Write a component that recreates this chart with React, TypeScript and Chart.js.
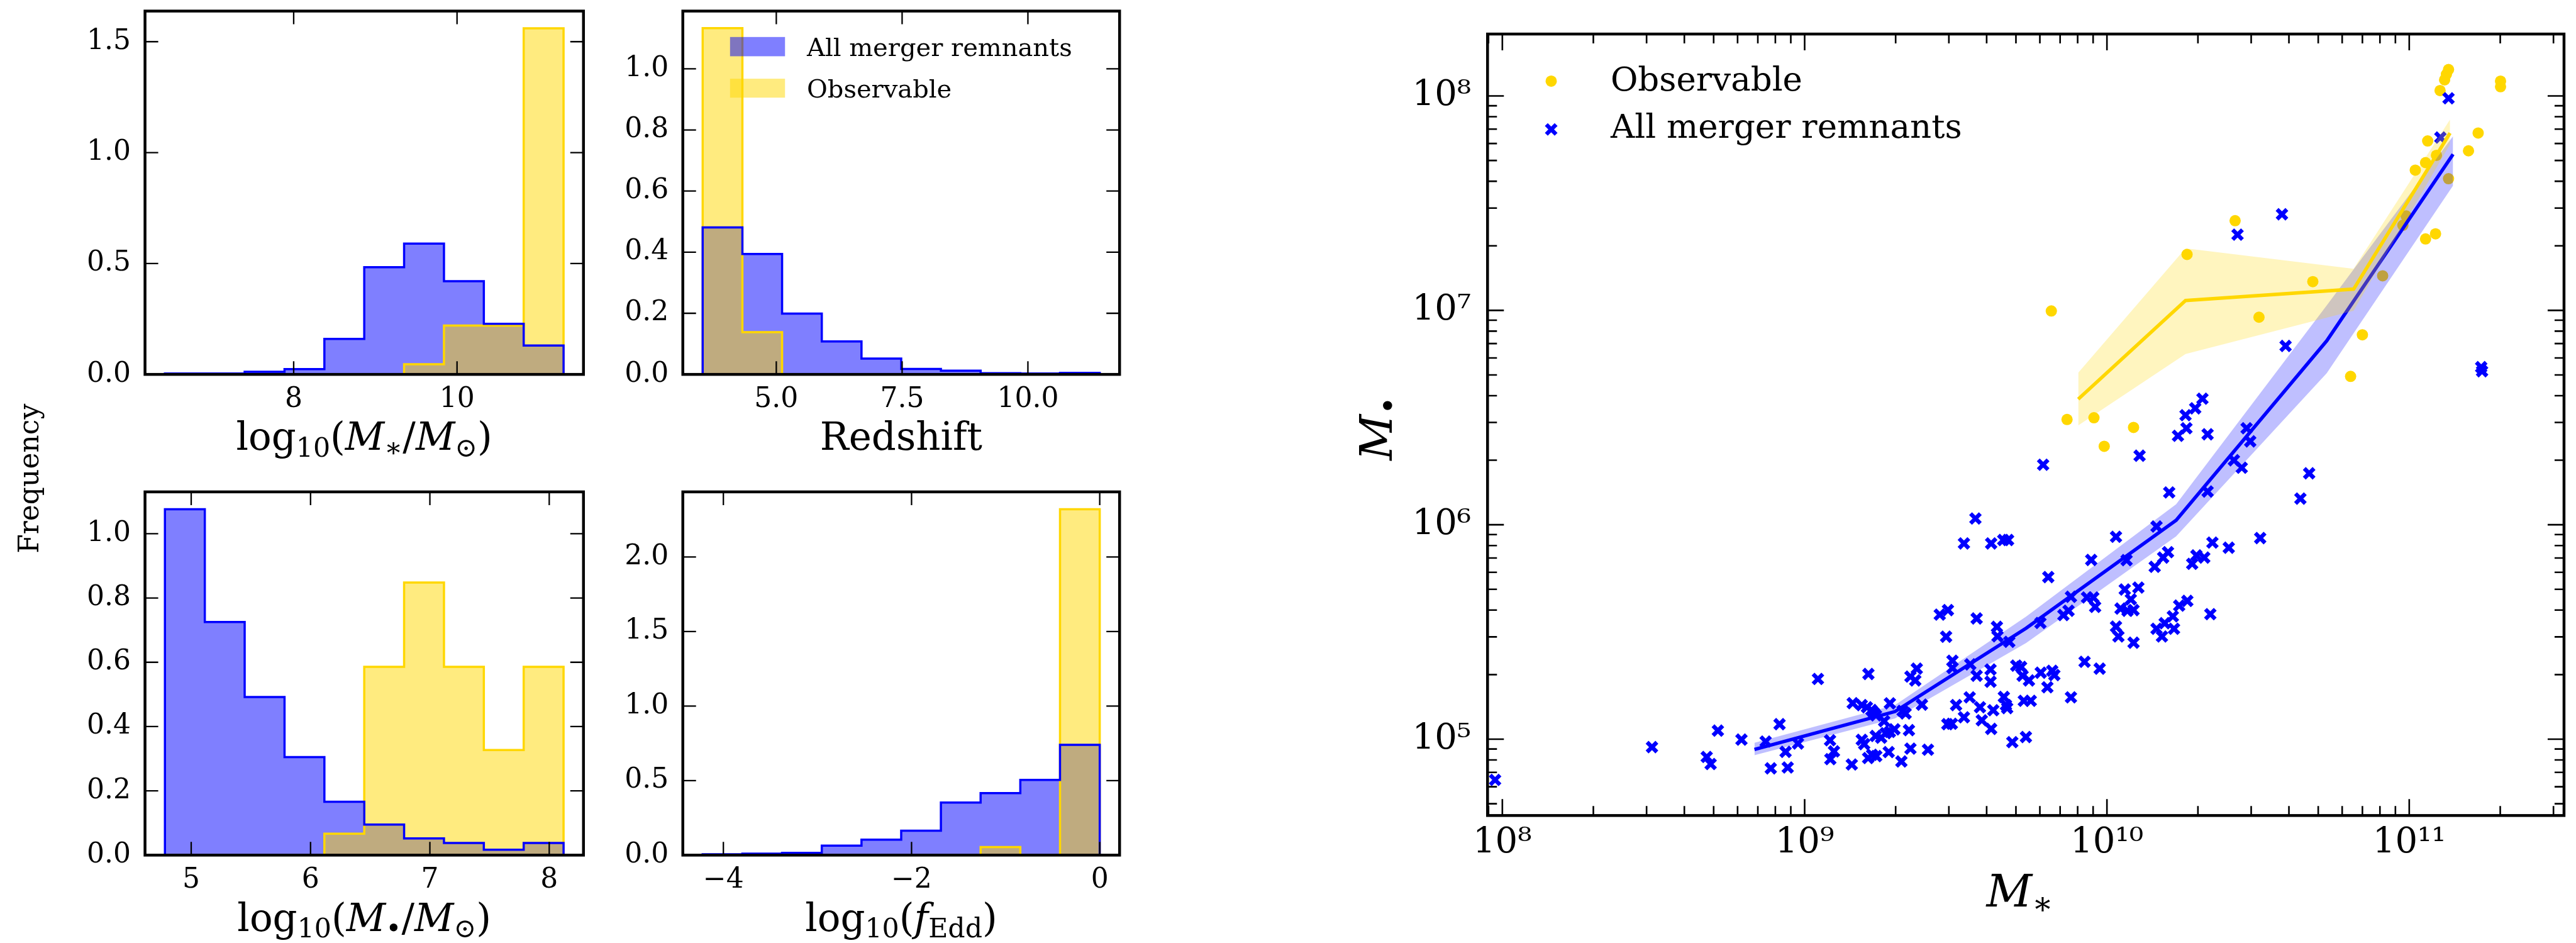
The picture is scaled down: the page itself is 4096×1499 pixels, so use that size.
import React, { useEffect, useRef } from "react";
import { Chart, registerables } from "chart.js";

Chart.register(...registerables);

// ================= DATA: histogram panels =================
// log10(M*/Msun)
const mstarEdges = [6.424, 6.912, 7.4, 7.888, 8.376, 8.864, 9.352, 9.84, 10.328, 10.816, 11.304];
const mstarAll = [0.004, 0.004, 0.012, 0.024, 0.16, 0.483, 0.59, 0.42, 0.228, 0.13];
const mstarObs = [null, null, 0, 0, 0, 0, 0.046, 0.22, 0.22, 1.56];
const mstarXRange = [6.18, 11.548];
const mstarYRange = [0, 1.638];
const mstarXTicks = [8, 10];
const mstarXLabels = ["8", "10"];
const mstarYTicks = [0, 0.5, 1.0, 1.5];
const mstarYLabels = ["0.0", "0.5", "1.0", "1.5"];

// Redshift
const zEdges = [3.537, 4.326, 5.115, 5.904, 6.693, 7.482, 8.271, 9.06, 9.849, 10.638, 11.427];
const zAll = [0.481, 0.394, 0.199, 0.108, 0.052, 0.018, 0.012, 0.004, 0.003, 0.005];
const zObs = [1.133, 0.138, 0, 0, 0, 0, 0, null, null, null];
const zXRange = [3.1425, 11.8215];
const zYRange = [0, 1.189];
const zXTicks = [5, 7.5, 10];
const zXLabels = ["5.0", "7.5", "10.0"];
const zYTicks = [0, 0.2, 0.4, 0.6, 0.8, 1.0];
const zYLabels = ["0.0", "0.2", "0.4", "0.6", "0.8", "1.0"];

// log10(M_BH/Msun)
const mbhEdges = [4.78, 5.114, 5.448, 5.782, 6.116, 6.45, 6.784, 7.118, 7.452, 7.786, 8.12];
const mbhAll = [1.076, 0.725, 0.492, 0.305, 0.166, 0.095, 0.052, 0.038, 0.017, 0.038];
const mbhObs = [0, 0, 0, 0, 0.0665, 0.586, 0.848, 0.586, 0.327, 0.586];
const mbhXRange = [4.613, 8.287];
const mbhYRange = [0, 1.13];
const mbhXTicks = [5, 6, 7, 8];
const mbhXLabels = ["5", "6", "7", "8"];
const mbhYTicks = [0, 0.2, 0.4, 0.6, 0.8, 1.0];
const mbhYLabels = ["0.0", "0.2", "0.4", "0.6", "0.8", "1.0"];

// log10(f_Edd)
const feddEdges = [-4.22, -3.798, -3.376, -2.954, -2.532, -2.11, -1.688, -1.266, -0.844, -0.422, 0];
const feddAll = [0.006, 0.01, 0.015, 0.064, 0.104, 0.164, 0.353, 0.416, 0.505, 0.74];
const feddObs = [null, null, 0, 0, 0, 0, 0, 0.054, 0, 2.32];
const feddXRange = [-4.431, 0.211];
const feddYRange = [0, 2.437];
const feddXTicks = [-4, -2, 0];
const feddXLabels = ["\u22124", "\u22122", "0"];
const feddYTicks = [0, 0.5, 1.0, 1.5, 2.0];
const feddYLabels = ["0.0", "0.5", "1.0", "1.5", "2.0"];

// ================= DATA: scatter panel (log10 values) =================
const scatterLogXRange = [7.951, 11.512];
const scatterLogYRange = [4.644, 8.2887];

const obsLogMstar = [11.13, 11.123, 11.117, 11.102, 11.302, 11.302, 11.228, 11.061, 11.196, 11.09, 11.054, 11.02, 11.13, 10.99, 10.979, 11.087, 11.054, 10.424, 10.265, 10.681, 10.912, 9.816, 10.503, 10.845, 10.806, 9.868, 9.957, 10.088, 9.991];
const obsLogMbh = [8.123, 8.101, 8.075, 8.025, 8.069, 8.043, 7.827, 7.79, 7.744, 7.723, 7.689, 7.654, 7.614, 7.44, 7.397, 7.357, 7.333, 7.418, 7.261, 7.134, 7.161, 6.997, 6.968, 6.886, 6.692, 6.491, 6.499, 6.454, 6.366];

const allLogMstar = [
  7.976, 8.495, 8.676, 8.689, 8.713, 8.791, 8.871, 8.888, 8.917, 8.937,
  8.944, 8.978, 9.044, 9.084, 9.097, 9.085, 9.156, 9.159, 9.189, 9.206,
  9.221, 9.211, 9.189, 9.197, 9.21, 9.237, 9.223, 9.235, 9.253, 9.268,
  9.229, 9.236, 9.263, 9.282, 9.282, 9.297, 9.278, 9.32, 9.324, 9.334,
  9.345, 9.35, 9.408, 9.35, 9.366, 9.371, 9.388, 9.447, 9.474, 9.468,
  9.472, 9.487, 9.489, 9.489, 9.501, 9.527, 9.527, 9.565, 9.617, 9.657,
  9.673, 9.548, 9.546, 9.569, 9.569, 9.58, 9.586, 9.617, 9.615, 9.615,
  9.624, 9.636, 9.638, 9.659, 9.666, 9.67, 9.677, 9.687, 9.7, 9.716,
  9.721, 9.725, 9.732, 9.742, 9.748, 9.78, 9.781, 9.789, 9.803, 9.806,
  9.819, 9.826, 9.856, 9.873, 9.881, 9.881, 9.926, 9.934, 9.948, 9.955,
  9.961, 9.976, 10.03, 10.03, 10.038, 10.045, 10.059, 10.065, 10.068, 10.079,
  10.088, 10.088, 10.104, 10.108, 10.158, 10.164, 10.164, 10.182, 10.186, 10.191,
  10.202, 10.206, 10.218, 10.222, 10.235, 10.239, 10.26, 10.263, 10.266, 10.282,
  10.292, 10.296, 10.316, 10.322, 10.333, 10.333, 10.342, 10.349, 10.403, 10.42,
  10.432, 10.446, 10.462, 10.474, 10.507, 10.579, 10.591, 10.64, 10.669, 11.103,
  11.13, 11.238, 11.241,
];
const allLogMbh = [
  4.81, 4.963, 4.917, 4.884, 5.04, 4.998, 4.989, 4.864, 5.07, 4.941,
  4.868, 4.98, 5.281, 4.995, 4.943, 4.907, 4.882, 5.168, 5.159, 5.149,
  5.136, 5.304, 4.997, 4.977, 4.912, 4.921, 4.927, 5.015, 5.007, 5.028,
  5.123, 5.111, 5.084, 5.167, 5.034, 5.046, 4.94, 4.896, 5.132, 5.12,
  5.042, 4.956, 4.951, 5.292, 5.274, 5.329, 5.161, 5.581, 5.602, 5.478,
  5.07, 5.072, 5.366, 5.332, 5.159, 5.102, 5.913, 6.029, 5.913, 5.929,
  5.929, 5.349, 5.195, 5.563, 5.296, 5.149, 5.088, 5.048, 5.325, 5.268,
  5.135, 5.524, 5.48, 5.197, 5.159, 5.145, 5.454, 4.986, 5.343, 5.337,
  5.296, 5.179, 5.01, 5.274, 5.179, 5.542, 5.31, 6.28, 5.242, 5.756,
  5.319, 5.299, 5.579, 5.599, 5.664, 5.195, 5.361, 5.661, 5.836, 5.661,
  5.617, 5.329, 5.944, 5.525, 5.479, 5.609, 5.698, 5.835, 5.599, 5.652,
  5.602, 5.45, 5.707, 6.322, 5.804, 5.992, 5.515, 5.479, 5.847, 5.541,
  5.872, 6.151, 5.573, 5.515, 6.415, 5.623, 6.511, 6.45, 5.645, 5.818,
  6.543, 5.857, 6.588, 5.847, 6.422, 6.155, 5.583, 5.917, 5.893, 6.301,
  7.353, 6.266, 6.45, 6.389, 5.938, 7.448, 6.834, 6.122, 6.24, 7.806,
  7.989, 6.735, 6.716,
];

// running medians and 1-sigma bands (log10)
const medAllLogMstar = [8.834, 9.299, 9.733, 10.229, 10.727, 11.145];
const medAllLogMbh = [4.952, 5.129, 5.518, 6.021, 6.858, 7.728];
const hiAllLogMbh = [4.983, 5.159, 5.572, 6.096, 7.023, 7.812];
const loAllLogMbh = [4.925, 5.097, 5.449, 5.946, 6.707, 7.582];

const medObsLogMstar = [9.905, 10.26, 10.816, 11.135];
const medObsLogMbh = [6.586, 7.046, 7.099, 7.827];
const hiObsLogMbh = [6.709, 7.289, 7.194, 7.89];
const loObsLogMbh = [6.463, 6.796, 6.998, 7.775];

// ================= LAYOUT / STYLE =================
const W = 4096;
const H = 1499;
const K = W / 4512;
const px = (v: number) => v * K;
const FONT = '"DejaVu Serif", "Liberation Serif", serif';
const BLUE = "#0000ff";
const GOLD = "#ffd700";
const BLUE_HALF = "rgba(0,0,255,0.5)";
const GOLD_HALF = "rgba(255,215,0,0.5)";
const BLUE_BAND = "rgba(0,0,255,0.25)";
const GOLD_BAND = "rgba(255,215,0,0.25)";
const CLEAR = "rgba(0,0,0,0)";

const boxes: any = {
  tl: { L: px(254), T: px(19.4), R: px(1022), B: px(655.6) },
  tr: { L: px(1196), T: px(19.4), R: px(1961), B: px(655.6) },
  bl: { L: px(254), T: px(861.3), R: px(1022), B: px(1497.4) },
  br: { L: px(1196), T: px(861.3), R: px(1961), B: px(1497.4) },
  sc: { L: px(2605.5), T: px(59.6), R: px(4491), B: px(1428) },
};

const AXW = 200; // fixed width reserved for y tick labels
const AXH = 120; // fixed height reserved for x tick labels

const HIST_TICK_FONT = 44;
const HIST_TITLE_FONT = 61;
const SC_TICK_FONT = 56;
const SC_TITLE_FONT = 71;
const X_RADIUS = 11;
const X_WIDTH = 6.5;

type Seg = { t: string; it?: boolean; sub?: boolean };

function drawRich(ctx: any, segs: Seg[], size: number, cx: number, by: number, rot = false) {
  const f = (s: Seg) => `${s.it ? "italic " : ""}${s.sub ? size * 0.7 : size}px ${FONT}`;
  let total = 0;
  const ws = segs.map((s) => {
    ctx.font = f(s);
    const w = ctx.measureText(s.t).width;
    total += w;
    return w;
  });
  ctx.save();
  ctx.translate(cx, by);
  if (rot) ctx.rotate(-Math.PI / 2);
  ctx.fillStyle = "#000";
  ctx.textBaseline = "alphabetic";
  ctx.textAlign = "left";
  let x = -total / 2;
  segs.forEach((s, i) => {
    ctx.font = f(s);
    ctx.fillText(s.t, x, s.sub ? size * 0.17 : 0);
    x += ws[i];
  });
  ctx.restore();
}

function framePlugin(major: number, minor: number, tickW: number, frameW: number) {
  return {
    id: "frame",
    afterDatasetsDraw(chart: any) {
      const { ctx, chartArea: a } = chart;
      const xs = chart.scales.x;
      const ys = chart.scales.y;
      ctx.save();
      ctx.strokeStyle = "#000";
      ctx.lineWidth = tickW;
      ctx.lineCap = "butt";
      ctx.beginPath();
      for (const t of xs.ticks) {
        const p = xs.getPixelForValue(t.value);
        if (p < a.left - 1 || p > a.right + 1) continue;
        const l = t.major ? major : minor;
        ctx.moveTo(p, a.bottom);
        ctx.lineTo(p, a.bottom - l);
        ctx.moveTo(p, a.top);
        ctx.lineTo(p, a.top + l);
      }
      for (const t of ys.ticks) {
        const p = ys.getPixelForValue(t.value);
        if (p < a.top - 1 || p > a.bottom + 1) continue;
        const l = t.major ? major : minor;
        ctx.moveTo(a.left, p);
        ctx.lineTo(a.left + l, p);
        ctx.moveTo(a.right, p);
        ctx.lineTo(a.right - l, p);
      }
      ctx.stroke();
      ctx.lineWidth = frameW;
      ctx.lineJoin = "miter";
      ctx.strokeRect(a.left, a.top, a.right - a.left, a.bottom - a.top);
      ctx.restore();
    },
  };
}

function stepOutline(edges: number[], vals: (number | null)[]) {
  const pts: { x: number; y: number }[] = [];
  let last = -1;
  for (let i = 0; i < vals.length; i++) {
    const v = vals[i];
    if (v === null || v === undefined) continue;
    if (last < 0) pts.push({ x: edges[i], y: 0 });
    pts.push({ x: edges[i], y: v }, { x: edges[i + 1], y: v });
    last = i;
  }
  pts.push({ x: edges[last + 1], y: 0 });
  return pts;
}

function fixedFit(axis: "x" | "y") {
  return (s: any) => {
    if (axis === "x") s.height = AXH;
    else s.width = AXW;
    s.paddingLeft = 0;
    s.paddingRight = 0;
    s.paddingTop = 0;
    s.paddingBottom = 0;
  };
}

function padFor(box: any) {
  return { left: box.L - AXW, top: box.T, right: W - box.R, bottom: H - box.B - AXH };
}

function histConfig(p: any) {
  const allPts = stepOutline(p.edges, p.all);
  const obsPts = stepOutline(p.edges, p.obs);
  const lineBase = { type: "line", pointRadius: 0, stepped: "before", borderJoinStyle: "miter", borderCapStyle: "butt" };
  const box = p.box;
  return {
    type: "scatter",
    data: {
      datasets: [
        { ...lineBase, data: allPts, borderColor: BLUE, borderWidth: 3.5, fill: false, order: 0 },
        { ...lineBase, data: obsPts, borderColor: GOLD, borderWidth: 3.5, fill: false, order: 1 },
        { ...lineBase, data: obsPts, borderColor: CLEAR, borderWidth: 1, fill: "origin", backgroundColor: GOLD_HALF, order: 2 },
        { ...lineBase, data: allPts, borderColor: CLEAR, borderWidth: 1, fill: "origin", backgroundColor: BLUE_HALF, order: 3 },
      ],
    },
    options: {
      responsive: false,
      animation: false,
      devicePixelRatio: 1,
      events: [],
      layout: { padding: padFor(box) },
      plugins: { legend: { display: false }, tooltip: { enabled: false } },
      scales: {
        x: {
          type: "linear",
          min: p.xRange[0],
          max: p.xRange[1],
          grid: { display: false },
          border: { display: false },
          afterFit: fixedFit("x"),
          afterBuildTicks: (s: any) => {
            s.ticks = p.xTicks.map((v: number) => ({ value: v, major: true }));
          },
          ticks: {
            autoSkip: false,
            maxRotation: 0,
            minRotation: 0,
            padding: 6,
            color: "#000",
            font: { family: FONT, size: HIST_TICK_FONT },
            callback: (_v: any, i: number) => p.xLabels[i],
          },
        },
        y: {
          type: "linear",
          min: p.yRange[0],
          max: p.yRange[1],
          grid: { display: false },
          border: { display: false },
          afterFit: fixedFit("y"),
          afterBuildTicks: (s: any) => {
            s.ticks = p.yTicks.map((v: number) => ({ value: v, major: true }));
          },
          ticks: {
            autoSkip: false,
            padding: 14.5,
            color: "#000",
            font: { family: FONT, size: HIST_TICK_FONT },
            callback: (_v: any, i: number) => p.yLabels[i],
          },
        },
      },
    },
    plugins: [
      framePlugin(21, 12, 2.3, 4.5),
      {
        id: "decor",
        afterDraw(chart: any) {
          const ctx = chart.ctx;
          drawRich(ctx, p.title, HIST_TITLE_FONT, (box.L + box.R) / 2, p.titleBase);
          if (p.extra) p.extra(ctx);
        },
      },
    ],
  };
}

const SUP: any = { "0": "\u2070", "1": "\u00b9", "2": "\u00b2", "3": "\u00b3", "4": "\u2074", "5": "\u2075", "6": "\u2076", "7": "\u2077", "8": "\u2078", "9": "\u2079" };
const supNum = (n: number) => String(n).split("").map((c) => SUP[c] || c).join("");

function logTicks(min: number, max: number) {
  const out: { value: number; major: boolean }[] = [];
  for (let e = Math.floor(Math.log10(min)); e <= Math.ceil(Math.log10(max)); e++) {
    for (let m = 1; m <= 9; m++) {
      const v = m * Math.pow(10, e);
      if (v >= min && v <= max) out.push({ value: v, major: m === 1 });
    }
  }
  return out;
}

function logLabel(v: number) {
  const e = Math.log10(v);
  const r = Math.round(e);
  return Math.abs(e - r) < 1e-9 ? "10" + supNum(r) : "";
}

function scatterConfig() {
  const box = boxes.sc;
  const toPts = (xs: number[], ys: number[]) => xs.map((v, i) => ({ x: Math.pow(10, v), y: Math.pow(10, ys[i]) }));
  const lineBase = { type: "line", pointRadius: 0, borderJoinStyle: "miter", tension: 0 };
  const xMin = Math.pow(10, scatterLogXRange[0]);
  const xMax = Math.pow(10, scatterLogXRange[1]);
  const yMin = Math.pow(10, scatterLogYRange[0]);
  const yMax = Math.pow(10, scatterLogYRange[1]);
  return {
    type: "scatter",
    data: {
      datasets: [
        { ...lineBase, data: toPts(medObsLogMstar, hiObsLogMbh), borderColor: CLEAR, borderWidth: 1, fill: "+1", backgroundColor: GOLD_BAND, order: 1 },
        { ...lineBase, data: toPts(medObsLogMstar, loObsLogMbh), borderColor: CLEAR, borderWidth: 1, fill: false, order: 1 },
        { ...lineBase, data: toPts(medObsLogMstar, medObsLogMbh), borderColor: GOLD, borderWidth: 5.5, fill: false, order: 2 },
        { ...lineBase, data: toPts(medAllLogMstar, hiAllLogMbh), borderColor: CLEAR, borderWidth: 1, fill: "+1", backgroundColor: BLUE_BAND, order: 3 },
        { ...lineBase, data: toPts(medAllLogMstar, loAllLogMbh), borderColor: CLEAR, borderWidth: 1, fill: false, order: 3 },
        { ...lineBase, data: toPts(medAllLogMstar, medAllLogMbh), borderColor: BLUE, borderWidth: 5.5, fill: false, order: 4 },
        {
          type: "scatter",
          data: toPts(allLogMstar, allLogMbh),
          pointStyle: "crossRot",
          pointRadius: X_RADIUS,
          radius: X_RADIUS,
          pointBorderWidth: X_WIDTH,
          borderWidth: X_WIDTH,
          borderColor: BLUE,
          backgroundColor: BLUE,
          clip: false,
          order: 5,
        },
        {
          type: "scatter",
          data: toPts(obsLogMstar, obsLogMbh),
          pointStyle: "circle",
          pointRadius: 9,
          radius: 9,
          pointBorderWidth: 0,
          borderWidth: 0,
          backgroundColor: GOLD,
          borderColor: GOLD,
          clip: false,
          order: 6,
        },
      ],
    },
    options: {
      responsive: false,
      animation: false,
      devicePixelRatio: 1,
      events: [],
      layout: { padding: padFor(box) },
      plugins: { legend: { display: false }, tooltip: { enabled: false } },
      scales: {
        x: {
          type: "logarithmic",
          min: xMin,
          max: xMax,
          grid: { display: false },
          border: { display: false },
          afterFit: fixedFit("x"),
          afterBuildTicks: (s: any) => {
            s.ticks = logTicks(xMin, xMax);
          },
          ticks: {
            autoSkip: false,
            maxRotation: 0,
            minRotation: 0,
            padding: 3,
            color: "#000",
            font: { family: FONT, size: SC_TICK_FONT },
            callback: (v: any) => logLabel(Number(v)),
          },
        },
        y: {
          type: "logarithmic",
          min: yMin,
          max: yMax,
          grid: { display: false },
          border: { display: false },
          afterFit: fixedFit("y"),
          afterBuildTicks: (s: any) => {
            s.ticks = logTicks(yMin, yMax);
          },
          ticks: {
            autoSkip: false,
            padding: 18,
            color: "#000",
            font: { family: FONT, size: SC_TICK_FONT },
            callback: (v: any) => logLabel(Number(v)),
          },
        },
      },
    },
    plugins: [
      framePlugin(26, 15, 2.6, 4.5),
      {
        id: "decor",
        afterDraw(chart: any) {
          const ctx = chart.ctx;
          drawRich(ctx, [{ t: "M", it: true }, { t: "\u2217", sub: true }], SC_TITLE_FONT, px(3538), px(1587));
          drawRich(ctx, [{ t: "M", it: true }, { t: "\u2022", sub: true }], SC_TITLE_FONT, px(2438), px(750), true);
          // legend
          ctx.save();
          const mx = px(2717);
          ctx.fillStyle = GOLD;
          ctx.beginPath();
          ctx.arc(mx, px(142), 9, 0, Math.PI * 2);
          ctx.fill();
          ctx.strokeStyle = BLUE;
          ctx.lineWidth = X_WIDTH;
          const d = X_RADIUS * Math.SQRT1_2;
          const cy = px(226.6);
          ctx.beginPath();
          ctx.moveTo(mx - d, cy - d);
          ctx.lineTo(mx + d, cy + d);
          ctx.moveTo(mx - d, cy + d);
          ctx.lineTo(mx + d, cy - d);
          ctx.stroke();
          ctx.fillStyle = "#000";
          ctx.font = `53px ${FONT}`;
          ctx.textAlign = "left";
          ctx.textBaseline = "alphabetic";
          ctx.fillText("Observable", px(2821), px(158.3));
          ctx.fillText("All merger remnants", px(2821), px(241.2));
          ctx.restore();
        },
      },
    ],
  };
}

const titleMstar: Seg[] = [{ t: "log" }, { t: "10", sub: true }, { t: "(" }, { t: "M", it: true }, { t: "\u2217", sub: true }, { t: "/" }, { t: "M", it: true }, { t: "\u2299", sub: true }, { t: ")" }];
const titleZ: Seg[] = [{ t: "Redshift" }];
const titleMbh: Seg[] = [{ t: "log" }, { t: "10", sub: true }, { t: "(" }, { t: "M", it: true }, { t: "\u2022", sub: true }, { t: "/" }, { t: "M", it: true }, { t: "\u2299", sub: true }, { t: ")" }];
const titleFedd: Seg[] = [{ t: "log" }, { t: "10", sub: true }, { t: "(" }, { t: "f", it: true }, { t: "Edd", sub: true }, { t: ")" }];

function buildConfigs() {
  const tl = histConfig({
    box: boxes.tl, edges: mstarEdges, all: mstarAll, obs: mstarObs, xRange: mstarXRange, yRange: mstarYRange,
    xTicks: mstarXTicks, xLabels: mstarXLabels, yTicks: mstarYTicks, yLabels: mstarYLabels,
    title: titleMstar, titleBase: px(788),
  });
  const tr = histConfig({
    box: boxes.tr, edges: zEdges, all: zAll, obs: zObs, xRange: zXRange, yRange: zYRange,
    xTicks: zXTicks, xLabels: zXLabels, yTicks: zYTicks, yLabels: zYLabels,
    title: titleZ, titleBase: px(788),
    extra: (ctx: any) => {
      ctx.save();
      ctx.fillStyle = BLUE_HALF;
      ctx.fillRect(px(1278.7), px(64.8), px(96.3), px(33.7));
      ctx.fillStyle = GOLD_HALF;
      ctx.fillRect(px(1278.7), px(137.8), px(96.3), px(33.2));
      ctx.fillStyle = "#000";
      ctx.font = `40px ${FONT}`;
      ctx.textAlign = "left";
      ctx.textBaseline = "alphabetic";
      ctx.fillText("All merger remnants", px(1413.3), px(98.5));
      ctx.fillText("Observable", px(1413.3), px(171));
      ctx.restore();
    },
  });
  const bl = histConfig({
    box: boxes.bl, edges: mbhEdges, all: mbhAll, obs: mbhObs, xRange: mbhXRange, yRange: mbhYRange,
    xTicks: mbhXTicks, xLabels: mbhXLabels, yTicks: mbhYTicks, yLabels: mbhYLabels,
    title: titleMbh, titleBase: px(1630),
    extra: (ctx: any) => {
      ctx.save();
      ctx.translate(px(55), px(838));
      ctx.rotate(-Math.PI / 2);
      ctx.fillStyle = "#000";
      ctx.font = `44px ${FONT}`;
      ctx.textAlign = "center";
      ctx.textBaseline = "middle";
      ctx.fillText("Frequency", 0, 0);
      ctx.restore();
    },
  });
  const br = histConfig({
    box: boxes.br, edges: feddEdges, all: feddAll, obs: feddObs, xRange: feddXRange, yRange: feddYRange,
    xTicks: feddXTicks, xLabels: feddXLabels, yTicks: feddYTicks, yLabels: feddYLabels,
    title: titleFedd, titleBase: px(1630),
  });
  return [tl, tr, bl, br, scatterConfig()];
}

export default function App() {
  const r0 = useRef<HTMLCanvasElement>(null);
  const r1 = useRef<HTMLCanvasElement>(null);
  const r2 = useRef<HTMLCanvasElement>(null);
  const r3 = useRef<HTMLCanvasElement>(null);
  const r4 = useRef<HTMLCanvasElement>(null);
  const refs = [r0, r1, r2, r3, r4];

  useEffect(() => {
    const cfgs = buildConfigs();
    const charts = cfgs.map((cfg, i) => new Chart(refs[i].current as any, cfg as any));
    return () => charts.forEach((c) => c.destroy());
  }, []);

  return (
    <div style={{ position: "fixed", left: 0, top: 0, width: W, height: H, background: "#fff", overflow: "hidden" }}>
      {refs.map((r, i) => (
        <canvas key={i} ref={r} width={W} height={H} style={{ position: "absolute", left: 0, top: 0, width: W, height: H }} />
      ))}
    </div>
  );
}
